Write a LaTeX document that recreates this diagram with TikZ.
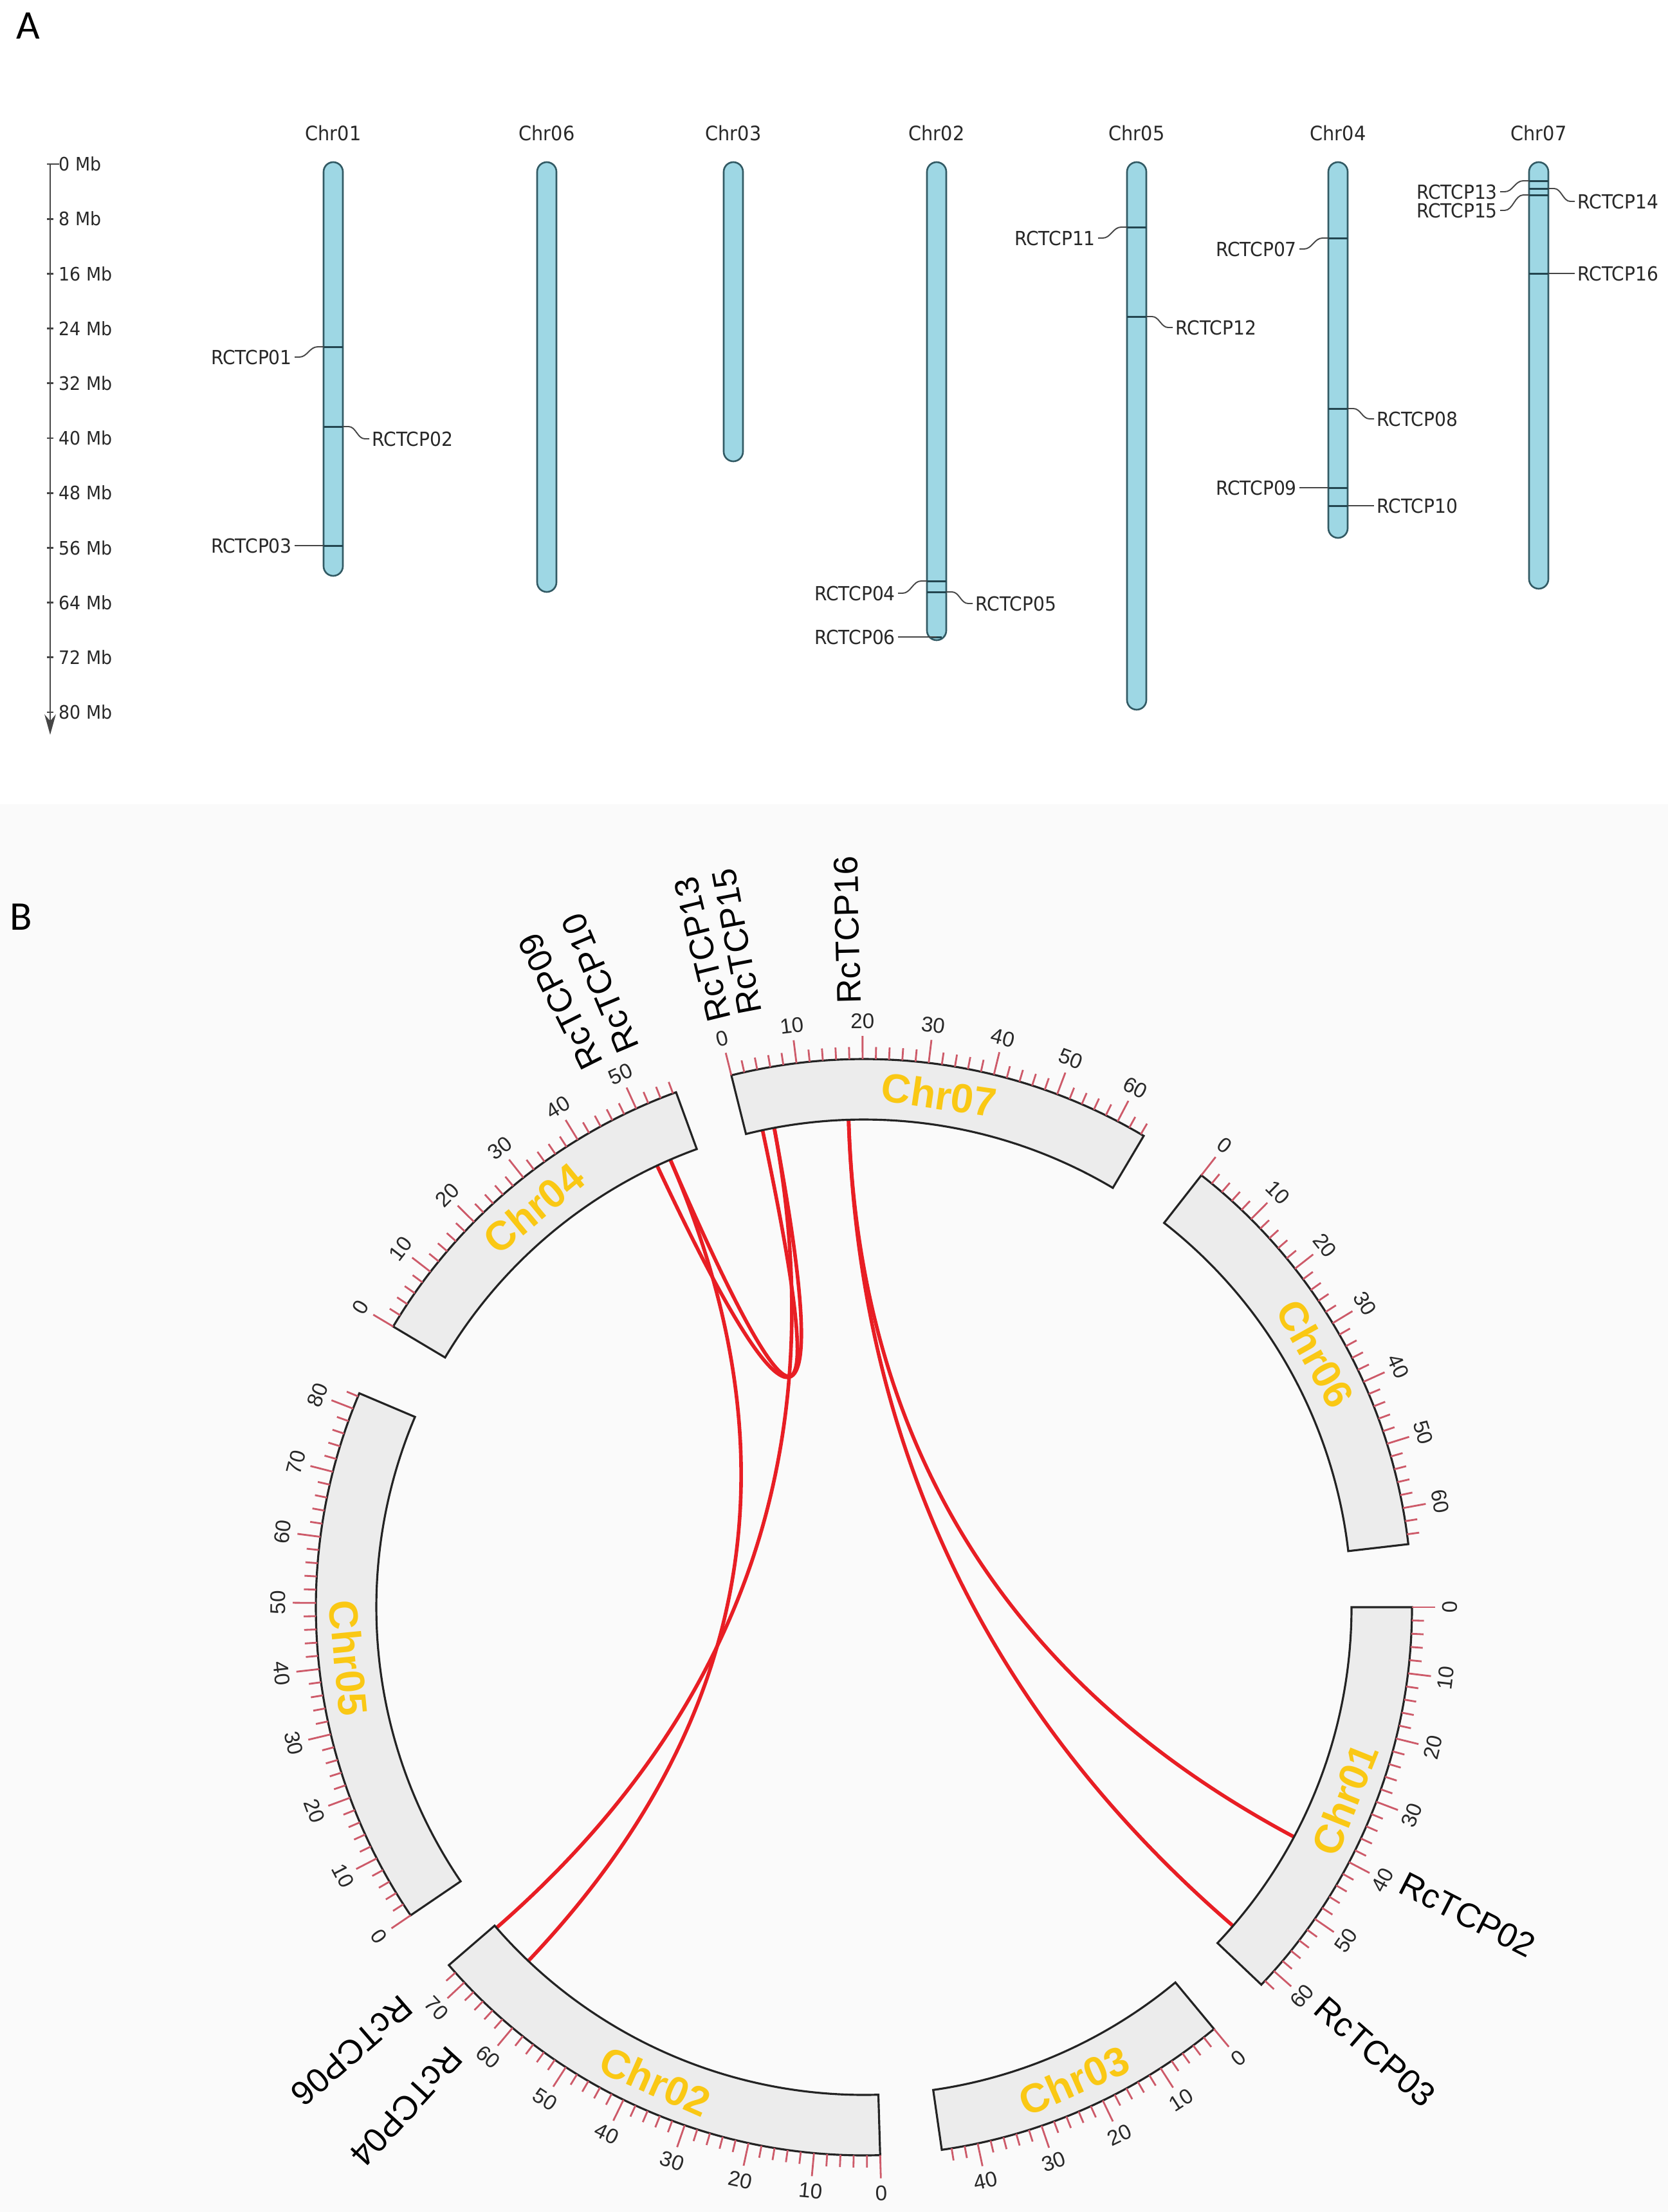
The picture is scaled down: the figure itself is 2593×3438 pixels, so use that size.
\documentclass[tikz,border=0pt]{standalone}
\usepackage{fontspec}
\setmainfont{Liberation Sans}
\newfontfamily\tfont[FakeStretch=0.93]{DejaVu Sans}
\newfontfamily\pfont{Carlito}
\usetikzlibrary{calc,arrows.meta}
\definecolor{chrfill}{RGB}{158,215,228}
\definecolor{chrline}{RGB}{50,90,100}
\definecolor{markc}{RGB}{35,70,80}
\definecolor{connc}{RGB}{70,70,70}
\definecolor{bandfill}{RGB}{236,236,236}
\definecolor{bandline}{RGB}{35,35,35}
\definecolor{tickc}{RGB}{205,90,105}
\definecolor{linkc}{RGB}{232,30,36}
\definecolor{goldc}{RGB}{250,200,20}
\definecolor{bgB}{RGB}{250,250,250}
\definecolor{txtc}{RGB}{40,40,40}
\tikzset{
  chrA/.style={draw=chrline, fill=chrfill, line width=0.75pt, rounded corners=0.15cm},
  gmark/.style={draw=markc, line width=0.85pt},
  conn/.style={draw=connc, line width=0.55pt},
  glab/.style={font=\tfont\fontsize{8.6}{10}\selectfont, text=txtc, inner sep=1pt},
  ctitle/.style={font=\tfont\fontsize{8.8}{10}\selectfont, text=txtc, inner sep=0pt},
  alab/.style={font=\tfont\fontsize{8.2}{10}\selectfont, text=txtc, inner sep=0pt, anchor=west},
  axisl/.style={draw=connc, line width=0.8pt},
  band/.style={draw=bandline, fill=bandfill, line width=0.9pt, line join=miter},
  majtick/.style={draw=tickc, line width=0.8pt},
  mintick/.style={draw=tickc, line width=0.8pt},
  ticklab/.style={font=\fontsize{9.4}{10}\selectfont, text=txtc, inner sep=0pt},
  chrlab/.style={font=\bfseries\fontsize{18}{20}\selectfont, text=goldc, inner sep=0pt},
  genelab/.style={font=\fontsize{15}{17}\selectfont, text=black, inner sep=0pt, anchor=west},
  link/.style={draw=linkc, line width=1.6pt},
  panel/.style={font=\pfont\fontsize{18}{20}\selectfont, inner sep=0pt},
}
\newcommand\kk{0.693}
\newcommand\gL[5]{%
  \draw[gmark] ({#1-15},{-#2}) -- ({#1+15},{-#2});
  \node[glab, anchor=east] (#4) at ({#1-60},{-#3}) {#5};
  \draw[conn] ({#1-15},{-#2}) -- ({#1-24},{-#2}) .. controls ({#1-37},{-#2}) and ({#1-40},{-#3}) .. ({#1-53},{-#3}) -- (#4.east);
}
\newcommand\gR[5]{%
  \draw[gmark] ({#1-15},{-#2}) -- ({#1+15},{-#2});
  \node[glab, anchor=west] (#4) at ({#1+56},{-#3}) {#5};
  \draw[conn] ({#1+15},{-#2}) -- ({#1+24},{-#2}) .. controls ({#1+35},{-#2}) and ({#1+38},{-#3}) .. ({#1+49},{-#3}) -- (#4.west);
}
\newcommand\chrband[5]{%
  \pgfmathsetmacro\cS{90-(#1)}%
  \pgfmathsetmacro\cE{90-((#1)+(#2)*\kk)}%
  \draw[band] (\cS:758) arc[start angle=\cS, end angle=\cE, radius=758] -- (\cE:852) arc[start angle=\cE, end angle=\cS, radius=852] -- cycle;
  \foreach \m in {0,2,...,#3}{%
    \pgfmathsetmacro\cth{(#1)+\m*\kk}%
    \pgfmathsetmacro\cang{90-(\cth)}%
    \pgfmathtruncatemacro\cmaj{mod(\m,10)==0}%
    \ifnum\cmaj=1
      \draw[majtick] (\cang:852) -- (\cang:888);
      \pgfmathsetmacro\crot{ifthenelse(and(\cth>90,\cth<270),180-(\cth),-1*(\cth))}%
      \node[ticklab, rotate=\crot] (#5t\m) at (\cang:911) {\m};
    \else
      \draw[mintick] (\cang:852) -- (\cang:871);
    \fi
  }%
  \pgfmathsetmacro\cmid{(#1)+(#2)*\kk/2}%
  \pgfmathsetmacro\cmang{90-(\cmid)}%
  \pgfmathsetmacro\cmrot{ifthenelse(and(\cmid>90,\cmid<270),180-(\cmid),-1*(\cmid))}%
  \node[chrlab, rotate=\cmrot] (#5) at (\cmang:805) {#4};
}
\begin{document}
\begin{tikzpicture}[x=0.01cm,y=0.01cm]
\fill[white] (0,0) rectangle (2593,-3438);
\fill[bgB] (0,-1250) rectangle (2593,-3438);
\useasboundingbox (0,0) rectangle (2593,-3438);

% ---------------- Panel A ----------------
\node[panel] (pA) at (44,-40) {A};
\node[panel] (pB) at (33,-1425) {B};

% scale axis
\draw[axisl, -{Stealth[length=9pt,width=5pt]}] (78,-255) -- (78,-1142);
\draw[axisl] (78,-255) -- (92,-255);
\foreach \k in {0,...,10}{
  \pgfmathsetmacro\yy{255+85.2*\k}
  \pgfmathtruncatemacro\mb{8*\k}
  \draw[axisl] (73,-\yy) -- (83,-\yy);
  \node[alab] (ax\k) at (91,-\yy) {\mb\ Mb};
}

% chromosomes
\draw[chrA] (503,-252) rectangle (533,-895);
\draw[chrA] (835,-252) rectangle (865,-920);
\draw[chrA] (1125,-252) rectangle (1155,-717);
\draw[chrA] (1441,-252) rectangle (1471,-995);
\draw[chrA] (1752,-252) rectangle (1782,-1103);
\draw[chrA] (2065,-252) rectangle (2095,-836);
\draw[chrA] (2377,-252) rectangle (2407,-915);

\node[ctitle] (h01) at (518,-207) {Chr01};
\node[ctitle] (h06) at (850,-207) {Chr06};
\node[ctitle] (h03) at (1140,-207) {Chr03};
\node[ctitle] (h02) at (1456,-207) {Chr02};
\node[ctitle] (h05) at (1767,-207) {Chr05};
\node[ctitle] (h04) at (2080,-207) {Chr04};
\node[ctitle] (h07) at (2392,-207) {Chr07};

% genes
\gL{518}{539}{555}{a01}{RCTCP01}
\gR{518}{663}{682}{a02}{RCTCP02}
\gL{518}{848}{848}{a03}{RCTCP03}
\gL{1456}{903}{922}{a04}{RCTCP04}
\gR{1456}{920}{938}{a05}{RCTCP05}
\draw[gmark] (1448,-990) -- (1464,-990);
\node[glab, anchor=east] (a06) at (1396,-990) {RCTCP06};
\draw[conn] (1456,-990) -- (a06.east);
\gL{1767}{353}{370}{a11}{RCTCP11}
\gR{1767}{492}{509}{a12}{RCTCP12}
\gL{2080}{370}{387}{a07}{RCTCP07}
\gR{2080}{635}{651}{a08}{RCTCP08}
\gL{2080}{758}{758}{a09}{RCTCP09}
\gR{2080}{786}{786}{a10}{RCTCP10}
\gL{2392}{281}{298}{a13}{RCTCP13}
\gR{2392}{293}{313}{a14}{RCTCP14}
\gL{2392}{303}{327}{a15}{RCTCP15}
\gR{2392}{425}{425}{a16}{RCTCP16}

% ---------------- Panel B ----------------
\begin{scope}[shift={(1343,-2498)}]
\coordinate (O) at (0,0);
\coordinate (g09) at (115.1:758);
\coordinate (g10) at (113.4:758);
\coordinate (g13) at (102.0:758);
\coordinate (g15) at (100.6:758);
\coordinate (g16) at (91.8:758);
\coordinate (g02) at (-28.1:758);
\coordinate (g03) at (-40.8:758);
\coordinate (g04) at (-133.5:758);
\coordinate (g06) at (-138.9:758);
\foreach \p/\q in {g16/g02, g16/g03, g09/g15, g10/g13, g10/g04, g15/g06}{
  \draw[link] (\p) .. controls ($(\p)!0.6667!(O)$) and ($(\q)!0.6667!(O)$) .. (\q);
}
\chrband{-14.0}{64.5}{64}{Chr07}{c7}
\chrband{38.0}{65.5}{64}{Chr06}{c6}
\chrband{90.0}{62.8}{62}{Chr01}{c1}
\chrband{140.3}{45.5}{44}{Chr03}{c3}
\chrband{178.3}{73.5}{72}{Chr02}{c2}
\chrband{235.8}{82.5}{82}{Chr05}{c5}
\chrband{300.8}{56.5}{56}{Chr04}{c4}
\foreach \ang/\nm/\txt in {116.6/l09/RcTCP09, 112.9/l10/RcTCP10, 103.8/l13/RcTCP13, 100.8/l15/RcTCP15, 91.4/l16/RcTCP16, -27/l02/RcTCP02, -41/l03/RcTCP03, -132.5/l04/RcTCP04, -139.1/l06/RcTCP06}{
  \node[genelab, rotate=\ang] (\nm) at (\ang:938) {\txt};
}
\end{scope}
\end{tikzpicture}
\end{document}
